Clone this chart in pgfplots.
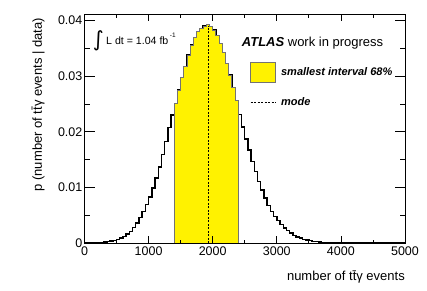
\documentclass[border=0pt]{standalone}
\usepackage{fontspec}
\setmainfont{Liberation Sans}
\newfontfamily\dejavu{DejaVu Sans}
\usepackage{pgfplots}
\pgfplotsset{compat=1.18}
\usepackage{pgfplotstable}
\pgfplotstableread{
x p
0 0
50 0.00001
100 0.00002
150 0.00004
200 0.00006
250 0.0001
300 0.00015
350 0.00023
400 0.00033
450 0.00047
500 0.00065
550 0.0009
600 0.0012
650 0.0016
700 0.0021
750 0.0028
800 0.0036
850 0.0046
900 0.0057
950 0.0069
1000 0.0083
1050 0.0099
1100 0.0117
1150 0.0137
1200 0.0159
1250 0.0183
1300 0.0208
1350 0.0230
1400 0.0251
1450 0.0275
1500 0.0297
1550 0.0318
1600 0.0338
1650 0.0356
1700 0.0370
1750 0.0380
1800 0.0386
1850 0.0390
1900 0.0393
1950 0.0389
2000 0.0383
2050 0.0373
2100 0.0359
2150 0.0342
2200 0.0323
2250 0.0302
2300 0.0280
2350 0.0256
2400 0.0231
2450 0.0209
2500 0.0187
2550 0.0167
2600 0.0147
2650 0.0129
2700 0.0111
2750 0.0095
2800 0.0081
2850 0.0068
2900 0.0057
2950 0.0048
3000 0.0040
3050 0.0033
3100 0.0027
3150 0.0022
3200 0.0018
3250 0.0014
3300 0.0011
3350 0.00087
3400 0.00068
3450 0.00053
3500 0.00041
3550 0.00031
3600 0.00024
3650 0.00018
3700 0.00013
3750 0.0001
3800 0.00007
3850 0.00005
3900 0.00003
3950 0.00002
4000 0.00001
4050 0.00001
4100 0
4150 0
4200 0
4250 0
4300 0
4350 0
4400 0
4450 0
4500 0
4550 0
4600 0
4650 0
4700 0
4750 0
4800 0
4850 0
4900 0
4950 0
5000 0
}\histdata
\begin{document}
\begin{tikzpicture}
\useasboundingbox (-84.5pt,-47pt) rectangle (342.5pt,243pt);
\begin{axis}[
  scale only axis, width=320.5pt, height=228.7pt,
  at={(0pt,0pt)}, anchor=south west,
  xmin=0, xmax=5000, ymin=0, ymax=0.04114,
  xtick={0,1000,2000,3000,4000,5000},
  xticklabels={0,1000,2000,3000,4000,5000},
  ytick={0,0.01,0.02,0.03,0.04},
  yticklabels={0,0.01,0.02,0.03,0.04},
  scaled x ticks=false, scaled y ticks=false,
  minor x tick num=1, minor y tick num=1,
  tick align=inside, tick pos=both,
  ticklabel style={font=\fontsize{12.5}{14}\selectfont},
  yticklabel style={xshift=1.4pt},
  xtick style={/pgfplots/major tick length=7pt,/pgfplots/minor tick length=3.5pt,line width=0.8pt,black},
  ytick style={/pgfplots/major tick length=10pt,/pgfplots/minor tick length=5pt,line width=0.8pt,black},
  axis line style={line width=0.9pt},
  axis on top,
  legend style={draw=none, fill=none, inner sep=0pt, outer sep=0pt,
    at={(0.5164,0.7927)}, anchor=north west,
    font=\fontsize{11}{13}\selectfont\bfseries\itshape,
    nodes={inner sep=2pt}, row sep=13pt, column sep=3pt},
  legend cell align=left,
]
\addplot[const plot mark left, black, line width=1.4pt, forget plot] table[x=x,y=p] {\histdata};
\addplot[const plot mark left, fill=yellow, draw=black!55, line width=1pt,
  restrict x to domain=1400:2400,
  legend image code/.code={\draw[fill=yellow,draw=black!55,line width=1pt] (0pt,-10pt) rectangle (25pt,10pt);}]
  table[x=x,y=p] {\histdata} \closedcycle;
\addlegendentry{smallest interval 68\%}
\addplot[black, line width=1.1pt, dash pattern=on 2pt off 1.5pt,
  legend image code/.code={\draw[black, line width=1.1pt, dash pattern=on 2pt off 1.5pt] (0pt,0pt) -- (25pt,0pt);}]
  coordinates {(1935,0) (1935,0.0391)};
\addlegendentry{mode}
\end{axis}
\node[font=\fontsize{13}{15}\selectfont, rotate=90, anchor=base east, inner sep=0pt] at (-42.5pt,225pt) {p (number of t\={t}γ events | data)};
\node[font=\fontsize{13}{15}\selectfont, anchor=base east, inner sep=0pt] at (320.5pt,-37.7pt) {number of t\={t}γ events};
\node[font=\fontsize{13}{15}\selectfont, anchor=base west, inner sep=0pt] at (157.2pt,196.3pt) {\textbf{\textit{ATLAS}} work in progress};
\node[font=\dejavu\fontsize{21}{23}\selectfont, inner sep=0pt] at (13.8pt,201.8pt) {∫};
\node[font=\fontsize{10.6}{12}\selectfont, anchor=base west, inner sep=0pt] at (21.5pt,199pt) {L dt = 1.04 fb\hspace{1.5pt}\raisebox{6.5pt}{\fontsize{6.5}{7}\selectfont -1}};
\end{tikzpicture}
\end{document}
